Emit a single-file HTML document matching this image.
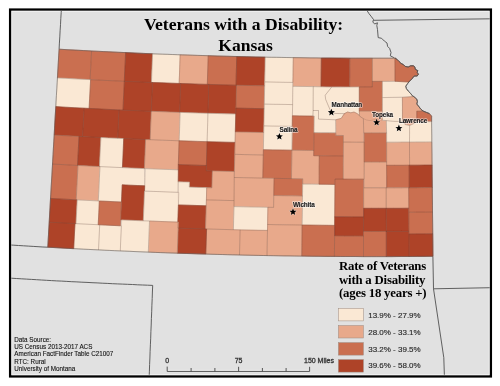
<!DOCTYPE html>
<html><head><meta charset="utf-8"><style>
html,body{margin:0;padding:0;background:#fff;}
svg{display:block;will-change:transform;}
.t{font-family:"Liberation Serif",serif;font-weight:bold;fill:#000;}
.s{font-family:"Liberation Sans",sans-serif;}
</style></head><body>
<svg width="500" height="386" viewBox="0 0 500 386">
<defs><clipPath id="cp"><rect x="11.3" y="10.55" width="478.4" height="364.3"/></clipPath></defs>
<rect x="10.15" y="9.6" width="480.7" height="366.8" fill="#e1e1e1" stroke="#000" stroke-width="2.4"/>
<rect x="11.75" y="11.2" width="477.5" height="363.6" fill="none" stroke="#fff" stroke-opacity="0.7" stroke-width="0.9"/>
<g fill="none" stroke="#505050" stroke-width="0.9" stroke-linejoin="round" clip-path="url(#cp)">
<path d="M59.1,49.2 L59.4,43.1 L59.8,36.9 L60.1,30.8 L60.5,24.7 L60.8,18.6 L61.2,12.4 L61.5,6.3"/>
<path d="M47.8,247.2 L42.9,247.0 L38.0,246.7 L33.2,246.4 L28.3,246.1 L23.5,245.8 L18.6,245.5 L13.8,245.2 L8.9,244.9"/>
<path d="M-14.0,276.5 L-9.0,276.9 L-3.9,277.2 L1.1,277.5 L6.2,277.8 L11.2,278.2 L16.3,278.5 L21.3,278.8 L26.4,279.1 L31.4,279.4 L36.5,279.7 L41.5,280.0 L46.6,280.3 L51.6,280.6 L56.7,280.9 L61.7,281.1 L66.8,281.4 L71.8,281.7 L76.9,281.9 L81.9,282.2 L87.0,282.4 L92.0,282.7 L97.1,282.9 L102.2,283.2 L107.2,283.4 L112.3,283.7 L117.3,283.9 L122.4,284.1 L127.4,284.3 L132.5,284.5 L137.5,284.8 L142.6,285.0 L147.6,285.2 L152.7,285.4 L152.4,292.0 L152.2,298.6 L151.9,305.2 L151.7,311.8 L151.4,318.4 L151.2,325.0 L150.9,331.6 L150.7,338.2 L150.4,344.8 L150.1,351.4 L149.9,358.0 L149.6,364.6 L149.4,371.2 L149.1,377.9 L148.9,384.5"/>
<path d="M432.9,256.4 L433.5,288.8 L491,287.7"/>
<path d="M433.5,288.8 L443.8,357.7 L444.4,376"/>
<path d="M373.5,20.3 L491,18.8"/>
<path d="M366.1,9 L368.8,13.4 L371.5,16.8 L373.5,19.5 L372.8,22.2 L374.8,23.9 L377.5,22.8 L376.8,25.5 L377.5,29.6 L378.2,37.6 L381.6,38.3 L384.3,41 L387,43 L387.6,46.4 L389.6,48.4 L391,52.5 L390.3,55.8 L394.4,57.9"/>
</g>
<g stroke-width="0.5" stroke-linejoin="round">
<polygon fill="#ca6f50" stroke="#ca6f50" points="59.1,49.2 67.2,49.7 75.3,50.1 83.4,50.5 91.6,51.0 91.1,60.5 90.6,70.1 90.1,79.6 81.9,79.2 73.8,78.8 65.6,78.3 57.4,77.9 58.0,68.3 58.5,58.8"/>
<polygon fill="#ca6f50" stroke="#ca6f50" points="91.6,51.0 100.1,51.4 108.6,51.8 117.1,52.2 125.6,52.6 125.2,62.2 124.7,71.7 124.3,81.3 115.7,80.9 107.2,80.5 98.6,80.1 90.1,79.6 90.6,70.1 91.1,60.5"/>
<polygon fill="#ae4328" stroke="#ae4328" points="125.6,52.6 134.6,53.0 143.6,53.4 152.6,53.8 152.2,63.3 151.8,72.9 151.5,82.4 142.4,82.1 133.3,81.7 124.3,81.3 124.7,71.7 125.2,62.2"/>
<polygon fill="#fae8d4" stroke="#fae8d4" points="152.6,53.8 161.8,54.1 171.0,54.5 180.1,54.8 179.8,64.4 179.5,73.9 179.1,83.5 169.9,83.1 160.7,82.8 151.5,82.4 151.8,72.9 152.2,63.3"/>
<polygon fill="#e8a98b" stroke="#e8a98b" points="180.1,54.8 189.5,55.1 198.8,55.4 208.2,55.7 207.9,65.3 207.6,74.8 207.3,84.4 197.9,84.1 188.5,83.8 179.1,83.5 179.5,73.9 179.8,64.4"/>
<polygon fill="#ca6f50" stroke="#ca6f50" points="208.2,55.7 217.7,56.0 227.2,56.3 236.7,56.5 236.5,66.1 236.2,75.6 236.0,85.2 226.4,84.9 216.9,84.7 207.3,84.4 207.6,74.8 207.9,65.3"/>
<polygon fill="#ae4328" stroke="#ae4328" points="236.7,56.5 246.2,56.7 255.7,56.9 265.2,57.1 265.0,66.7 264.8,76.3 264.7,85.8 255.1,85.6 245.5,85.4 236.0,85.2 236.2,75.6 236.5,66.1"/>
<polygon fill="#fae8d4" stroke="#fae8d4" points="265.2,57.1 274.6,57.3 283.9,57.5 293.3,57.6 293.1,70.0 292.9,82.4 283.5,82.3 274.1,82.1 264.7,81.9 265.0,69.5"/>
<polygon fill="#e8a98b" stroke="#e8a98b" points="293.3,57.6 302.6,57.8 312.0,57.9 321.3,58.0 321.2,67.5 321.1,77.1 321.0,86.7 311.6,86.6 302.2,86.4 292.8,86.3 293.0,76.8 293.1,67.2"/>
<polygon fill="#ae4328" stroke="#ae4328" points="321.3,58.0 330.8,58.0 340.3,58.1 349.9,58.2 349.8,67.7 349.8,77.3 349.7,86.9 340.2,86.8 330.6,86.7 321.0,86.7 321.1,77.1 321.2,67.5"/>
<polygon fill="#ca6f50" stroke="#ca6f50" points="349.9,58.2 357.4,58.2 364.9,58.2 372.4,58.2 372.4,67.8 372.4,77.4 372.4,86.9 364.8,86.9 357.3,86.9 349.7,86.9 349.8,77.3 349.8,67.7"/>
<polygon fill="#e8a98b" stroke="#e8a98b" points="372.4,58.2 379.9,58.2 387.4,58.2 394.9,58.2 395.0,69.8 395.0,81.3 387.5,81.4 379.9,81.4 372.4,81.4 372.4,69.8"/>
<polygon fill="#fae8d4" stroke="#fae8d4" points="57.4,77.9 65.7,78.3 74.0,78.8 82.3,79.2 90.6,79.7 90.1,89.2 89.6,98.8 89.1,108.4 80.8,108.0 72.5,107.6 64.1,107.1 55.8,106.6 56.3,97.0 56.9,87.5"/>
<polygon fill="#ca6f50" stroke="#ca6f50" points="90.6,79.7 99.0,80.1 107.4,80.5 115.9,80.9 124.3,81.3 123.9,90.9 123.4,100.5 123.0,110.1 114.5,109.7 106.1,109.3 97.6,108.9 89.1,108.4 89.6,98.8 90.1,89.2"/>
<polygon fill="#ae4328" stroke="#ae4328" points="124.3,81.3 133.7,81.7 143.1,82.1 152.5,82.5 152.1,92.1 151.7,101.7 151.3,111.3 141.9,110.9 132.4,110.5 123.0,110.1 123.4,100.5 123.9,90.9"/>
<polygon fill="#ae4328" stroke="#ae4328" points="152.5,82.5 161.8,82.8 171.2,83.2 180.6,83.5 180.3,93.1 180.0,102.7 179.6,112.3 170.2,112.0 160.7,111.6 151.3,111.3 151.7,101.7 152.1,92.1"/>
<polygon fill="#ae4328" stroke="#ae4328" points="180.6,83.5 190.0,83.8 199.4,84.2 208.8,84.4 208.5,94.0 208.2,103.6 207.9,113.3 198.5,113.0 189.1,112.7 179.6,112.3 180.0,102.7 180.3,93.1"/>
<polygon fill="#ae4328" stroke="#ae4328" points="208.8,84.4 218.0,84.7 227.3,85.0 236.5,85.2 236.2,94.8 236.0,104.4 235.8,114.0 226.5,113.8 217.2,113.5 207.9,113.3 208.2,103.6 208.5,94.0"/>
<polygon fill="#ca6f50" stroke="#ca6f50" points="236.5,85.2 245.9,85.4 255.3,85.6 264.7,85.8 264.4,97.3 264.2,108.7 254.8,108.5 245.3,108.3 235.9,108.1 236.2,96.6"/>
<polygon fill="#fae8d4" stroke="#fae8d4" points="264.7,81.9 274.1,82.1 283.5,82.3 292.9,82.4 292.7,93.5 292.6,104.6 283.1,104.4 273.7,104.3 264.3,104.1 264.5,93.0"/>
<polygon fill="#fae8d4" stroke="#fae8d4" points="292.8,86.3 299.7,86.4 306.6,86.5 313.5,86.6 313.4,96.4 313.3,106.2 313.2,116.1 306.2,116.0 299.3,115.9 292.4,115.8 292.6,106.0 292.7,96.1"/>
<polygon fill="#ae4328" stroke="#ae4328" points="55.8,106.6 65.2,107.2 74.6,107.7 84.1,108.2 83.6,117.6 83.1,127.1 82.6,136.6 73.1,136.1 63.6,135.6 54.2,135.0 54.7,125.6 55.2,116.1"/>
<polygon fill="#ae4328" stroke="#ae4328" points="84.1,108.2 92.8,108.6 101.5,109.1 110.2,109.5 119.0,109.9 118.5,119.4 118.1,128.8 117.7,138.3 108.9,137.9 100.1,137.5 91.4,137.0 82.6,136.6 83.1,127.1 83.6,117.6"/>
<polygon fill="#ae4328" stroke="#ae4328" points="119.0,109.9 127.0,110.3 135.1,110.6 143.2,110.9 151.3,111.3 150.9,120.7 150.5,130.2 150.2,139.7 142.0,139.4 133.9,139.0 125.8,138.7 117.7,138.3 118.1,128.8 118.5,119.4"/>
<polygon fill="#e8a98b" stroke="#e8a98b" points="151.3,111.3 160.9,111.7 170.5,112.0 180.1,112.4 179.8,121.8 179.5,131.3 179.1,140.8 169.5,140.4 159.8,140.1 150.2,139.7 150.5,130.2 150.9,120.7"/>
<polygon fill="#fae8d4" stroke="#fae8d4" points="180.1,112.4 189.4,112.7 198.7,113.0 207.9,113.3 207.7,122.7 207.4,132.2 207.1,141.7 197.8,141.4 188.5,141.1 179.1,140.8 179.5,131.3 179.8,121.8"/>
<polygon fill="#fae8d4" stroke="#fae8d4" points="207.9,113.3 217.2,113.5 226.5,113.8 235.8,114.0 235.5,123.5 235.3,133.0 235.1,142.4 225.7,142.2 216.4,141.9 207.1,141.7 207.4,132.2 207.7,122.7"/>
<polygon fill="#ae4328" stroke="#ae4328" points="235.9,108.1 245.3,108.3 254.8,108.5 264.2,108.7 264.0,120.6 263.7,132.5 254.3,132.3 244.8,132.1 235.3,131.9 235.6,120.0"/>
<polygon fill="#fae8d4" stroke="#fae8d4" points="264.3,104.1 273.7,104.3 283.1,104.4 292.6,104.6 292.4,115.5 292.3,126.4 282.8,126.2 273.3,126.1 263.9,125.9 264.1,115.0"/>
<polygon fill="#ca6f50" stroke="#ca6f50" points="292.4,115.8 299.7,115.9 306.9,116.0 314.2,116.1 314.0,127.5 313.9,139.0 313.8,150.5 306.5,150.4 299.2,150.3 291.9,150.2 292.1,138.7 292.2,127.3"/>
<polygon fill="#ca6f50" stroke="#ca6f50" points="54.2,135.0 62.5,135.5 70.8,135.9 79.0,136.4 78.5,146.1 78.0,155.8 77.5,165.4 69.2,165.0 60.8,164.5 52.5,164.1 53.1,154.4 53.6,144.7"/>
<polygon fill="#ae4328" stroke="#ae4328" points="79.0,136.4 86.3,136.8 93.6,137.1 100.9,137.5 100.4,147.2 99.9,156.9 99.5,166.6 92.2,166.2 84.8,165.8 77.5,165.4 78.0,155.8 78.5,146.1"/>
<polygon fill="#fae8d4" stroke="#fae8d4" points="100.9,137.5 108.5,137.9 116.1,138.2 123.7,138.6 123.3,148.3 122.9,157.9 122.4,167.6 114.8,167.3 107.1,166.9 99.5,166.6 99.9,156.9 100.4,147.2"/>
<polygon fill="#ae4328" stroke="#ae4328" points="123.7,138.6 131.0,138.9 138.3,139.2 145.6,139.5 145.2,149.2 144.8,158.9 144.4,168.6 137.1,168.3 129.8,168.0 122.4,167.6 122.9,157.9 123.3,148.3"/>
<polygon fill="#e8a98b" stroke="#e8a98b" points="145.6,139.5 154.0,139.8 162.4,140.2 170.7,140.5 179.1,140.8 178.8,150.5 178.5,160.2 178.1,169.8 169.7,169.5 161.3,169.2 152.8,168.9 144.4,168.6 144.8,158.9 145.2,149.2"/>
<polygon fill="#ca6f50" stroke="#ca6f50" points="179.1,140.8 188.5,141.1 197.8,141.4 207.1,141.7 206.7,153.6 206.4,165.5 197.0,165.2 187.7,164.9 178.3,164.6 178.7,152.7"/>
<polygon fill="#ae4328" stroke="#ae4328" points="207.1,141.7 216.4,141.9 225.7,142.2 235.1,142.4 234.8,152.1 234.6,161.8 234.3,171.5 225.0,171.3 215.6,171.0 206.2,170.8 206.5,161.1 206.8,151.4"/>
<polygon fill="#e8a98b" stroke="#e8a98b" points="235.3,131.9 244.8,132.1 254.3,132.3 263.7,132.5 263.5,143.7 263.3,155.0 253.8,154.8 244.3,154.6 234.8,154.3 235.0,143.1"/>
<polygon fill="#fae8d4" stroke="#fae8d4" points="263.9,125.9 273.3,126.1 282.8,126.2 292.3,126.4 292.1,138.3 291.9,150.2 282.4,150.0 272.9,149.9 263.4,149.7 263.6,137.8"/>
<polygon fill="#e8a98b" stroke="#e8a98b" points="234.8,154.3 244.3,154.6 253.8,154.8 263.3,155.0 263.1,166.5 262.8,178.1 253.3,177.9 243.7,177.7 234.2,177.5 234.5,165.9"/>
<polygon fill="#ca6f50" stroke="#ca6f50" points="263.4,149.7 272.9,149.9 282.4,150.0 291.9,150.2 291.8,159.7 291.6,169.1 291.5,178.6 281.9,178.5 272.4,178.3 262.8,178.1 263.0,168.6 263.2,159.2"/>
<polygon fill="#ca6f50" stroke="#ca6f50" points="52.5,164.1 61.0,164.5 69.5,165.0 78.0,165.5 77.4,176.9 76.8,188.4 76.2,199.8 67.7,199.3 59.1,198.9 50.5,198.4 51.2,187.0 51.9,175.5"/>
<polygon fill="#e8a98b" stroke="#e8a98b" points="78.0,165.5 85.3,165.8 92.7,166.2 100.0,166.6 99.4,178.0 98.9,189.5 98.3,200.9 90.9,200.6 83.6,200.2 76.2,199.8 76.8,188.4 77.4,176.9"/>
<polygon fill="#fae8d4" stroke="#fae8d4" points="100.0,166.6 108.9,167.0 117.7,167.4 126.6,167.8 135.5,168.2 144.4,168.6 144.6,177.2 144.7,185.8 137.2,185.5 129.7,185.2 122.2,184.8 121.8,193.4 121.4,202.0 113.7,201.6 106.0,201.3 98.3,200.9 98.9,189.5 99.4,178.0"/>
<polygon fill="#fae8d4" stroke="#fae8d4" points="145.4,168.6 153.7,168.9 162.0,169.3 170.3,169.6 178.6,169.9 178.2,181.1 177.9,192.3 169.5,192.0 161.2,191.7 152.9,191.4 144.5,191.1 145.0,179.8"/>
<polygon fill="#ae4328" stroke="#ae4328" points="178.3,164.6 187.7,164.9 197.0,165.2 206.4,165.5 206.2,170.8 212.4,170.9 212.1,179.4 211.9,187.8 204.4,187.6 196.8,187.3 189.3,187.1 189.5,182.1 183.9,181.9 178.2,181.8 178.3,173.2"/>
<polygon fill="#fae8d4" stroke="#fae8d4" points="178.2,181.8 183.9,181.9 189.5,182.1 189.3,187.1 198.0,187.4 206.7,187.6 206.5,196.7 206.2,205.8 197.0,205.5 187.7,205.2 178.4,204.9 178.3,193.3"/>
<polygon fill="#e8a98b" stroke="#e8a98b" points="212.4,170.9 219.7,171.1 227.0,171.3 234.3,171.5 234.3,181.2 234.2,190.9 234.1,200.6 224.9,200.4 215.6,200.1 206.4,199.9 206.7,187.6 211.9,187.8 212.1,179.4"/>
<polygon fill="#ae4328" stroke="#ae4328" points="122.2,184.8 129.7,185.2 137.2,185.5 144.7,185.8 144.3,197.5 143.8,209.1 143.3,220.8 135.7,220.5 128.2,220.2 120.6,219.8 121.2,208.2 121.7,196.5"/>
<polygon fill="#fae8d4" stroke="#fae8d4" points="144.5,191.1 153.1,191.4 161.7,191.7 170.3,192.1 178.9,192.4 178.5,202.3 178.2,212.2 177.9,222.1 169.2,221.8 160.6,221.5 151.9,221.1 143.3,220.8 143.7,210.9 144.1,201.0"/>
<polygon fill="#ae4328" stroke="#ae4328" points="178.4,204.9 187.7,205.2 197.0,205.5 206.2,205.8 205.9,217.4 205.5,228.9 196.2,228.7 186.9,228.4 177.6,228.0 178.0,216.5"/>
<polygon fill="#e8a98b" stroke="#e8a98b" points="206.4,199.9 215.6,200.1 224.9,200.4 234.1,200.6 233.9,210.3 233.6,220.0 233.4,229.7 224.1,229.5 214.8,229.2 205.5,228.9 205.8,219.2 206.1,209.6"/>
<polygon fill="#e8a98b" stroke="#e8a98b" points="234.2,177.5 244.2,177.7 254.1,177.9 264.1,178.1 274.1,178.3 273.9,188.0 273.7,197.7 273.6,207.4 263.7,207.2 253.8,207.0 243.9,206.8 234.0,206.6 234.0,196.9 234.1,187.2"/>
<polygon fill="#fae8d4" stroke="#fae8d4" points="234.0,206.6 242.5,206.8 250.9,207.0 259.4,207.1 267.9,207.3 267.7,218.9 267.5,230.4 259.0,230.3 250.4,230.1 241.9,229.9 233.4,229.7 233.7,218.1"/>
<polygon fill="#ca6f50" stroke="#ca6f50" points="274.1,178.3 283.6,178.5 293.2,178.6 302.7,178.8 302.6,187.4 302.5,196.0 292.9,195.8 283.4,195.7 273.8,195.5 273.9,186.9"/>
<polygon fill="#e8a98b" stroke="#e8a98b" points="273.8,195.5 283.4,195.7 292.9,195.8 302.5,196.0 302.4,205.6 302.3,215.3 302.1,225.0 293.5,224.9 284.9,224.8 276.2,224.7 267.6,224.5 267.7,215.9 267.9,207.3 273.6,207.4"/>
<polygon fill="#e8a98b" stroke="#e8a98b" points="291.9,150.2 299.2,150.3 306.5,150.4 313.8,150.5 313.7,155.7 319.3,155.8 319.2,165.3 319.2,174.8 319.1,184.2 310.9,184.1 302.7,184.1 302.7,178.8 297.1,178.7 291.5,178.6 291.6,169.1 291.8,159.7"/>
<polygon fill="#fae8d4" stroke="#fae8d4" points="302.7,184.1 310.7,184.1 318.8,184.2 326.9,184.3 334.9,184.4 334.9,194.6 334.8,204.9 334.7,215.1 334.6,225.4 326.5,225.3 318.4,225.2 310.3,225.1 302.1,225.0 302.3,214.8 302.4,204.5 302.5,194.3"/>
<polygon fill="#e8a98b" stroke="#e8a98b" points="267.6,224.5 276.2,224.7 284.9,224.8 293.5,224.9 302.1,225.0 302.0,235.4 301.9,245.8 301.8,256.1 293.1,256.0 284.4,255.9 275.7,255.7 267.0,255.6 267.2,245.2 267.4,234.9"/>
<polygon fill="#ca6f50" stroke="#ca6f50" points="302.1,225.0 310.3,225.1 318.4,225.2 326.5,225.3 334.6,225.4 334.6,235.7 334.5,246.1 334.4,256.4 326.3,256.4 318.1,256.3 309.9,256.2 301.8,256.1 301.9,245.8 302.0,235.4"/>
<polygon fill="#e8a98b" stroke="#e8a98b" points="240.1,229.9 249.2,230.1 258.4,230.3 267.5,230.4 267.2,243.0 267.0,255.6 257.8,255.4 248.7,255.2 239.5,255.0 239.8,242.4"/>
<polygon fill="#e8a98b" stroke="#e8a98b" points="206.6,229.0 214.9,229.2 223.3,229.4 231.7,229.7 240.1,229.9 239.8,242.4 239.5,255.0 231.1,254.8 222.7,254.6 214.2,254.3 205.8,254.1 206.2,241.5"/>
<polygon fill="#ae4328" stroke="#ae4328" points="178.2,228.1 187.6,228.4 197.1,228.7 206.6,229.0 206.2,241.5 205.8,254.1 196.3,253.8 186.8,253.5 177.3,253.2 177.7,240.6"/>
<polygon fill="#e8a98b" stroke="#e8a98b" points="149.5,221.0 159.1,221.4 168.7,221.8 178.4,222.1 178.0,232.5 177.7,242.8 177.3,253.2 167.6,252.8 157.9,252.5 148.3,252.1 148.7,241.7 149.1,231.4"/>
<polygon fill="#fae8d4" stroke="#fae8d4" points="121.7,219.9 130.9,220.3 140.2,220.7 149.5,221.0 149.1,231.4 148.7,241.7 148.3,252.1 138.9,251.7 129.6,251.3 120.3,250.9 120.7,240.6 121.2,230.2"/>
<polygon fill="#fae8d4" stroke="#fae8d4" points="99.7,224.8 107.0,225.2 114.2,225.5 121.4,225.8 120.8,238.4 120.3,250.9 113.0,250.6 105.8,250.3 98.5,249.9 99.1,237.4"/>
<polygon fill="#fae8d4" stroke="#fae8d4" points="75.0,223.6 83.2,224.0 91.5,224.4 99.7,224.8 99.1,237.4 98.5,249.9 90.2,249.5 81.9,249.1 73.7,248.7 74.3,236.1"/>
<polygon fill="#ae4328" stroke="#ae4328" points="49.2,222.2 57.8,222.6 66.4,223.1 75.0,223.6 74.3,236.1 73.7,248.7 65.0,248.2 56.4,247.7 47.8,247.2 48.5,234.7"/>
<polygon fill="#ae4328" stroke="#ae4328" points="50.5,198.4 59.4,198.9 68.3,199.4 77.2,199.9 76.6,211.7 76.0,223.6 67.1,223.2 58.1,222.7 49.2,222.2 49.9,210.3"/>
<polygon fill="#fae8d4" stroke="#fae8d4" points="77.2,199.9 84.6,200.2 92.0,200.6 99.3,201.0 98.8,212.9 98.2,224.7 90.8,224.4 83.4,224.0 76.0,223.6 76.6,211.7"/>
<polygon fill="#ca6f50" stroke="#ca6f50" points="99.3,201.0 106.7,201.3 114.1,201.7 121.4,202.0 120.9,213.9 120.4,225.8 113.0,225.4 105.6,225.1 98.2,224.7 98.8,212.9"/>
<polygon fill="#ca6f50" stroke="#ca6f50" points="319.3,155.8 327.3,155.9 335.3,155.9 343.3,156.0 343.2,167.6 343.2,179.1 335.0,179.1 334.9,184.4 327.0,184.3 319.1,184.2 319.2,174.8 319.2,165.3"/>
<polygon fill="#ca6f50" stroke="#ca6f50" points="314.0,132.6 321.3,132.7 328.5,132.7 335.8,132.8 335.8,135.4 343.4,135.5 343.4,145.7 343.3,156.0 333.4,155.9 323.6,155.8 313.7,155.7 313.9,144.2"/>
<polygon fill="#e8a98b" stroke="#e8a98b" points="343.4,142.1 350.3,142.1 357.3,142.2 364.2,142.2 364.2,154.5 364.2,166.9 364.1,179.2 357.2,179.2 350.2,179.2 343.2,179.1 343.2,166.8 343.3,154.4"/>
<polygon fill="#ca6f50" stroke="#ca6f50" points="335.0,179.1 344.5,179.1 354.1,179.2 363.6,179.2 363.6,191.8 363.6,204.3 363.6,216.9 353.9,216.9 344.3,216.8 334.7,216.8 334.8,204.2 334.9,191.6"/>
<polygon fill="#ae4328" stroke="#ae4328" points="334.7,216.8 344.3,216.8 353.9,216.9 363.6,216.9 363.5,226.5 363.5,236.1 353.9,236.0 344.2,236.0 334.6,235.9 334.6,226.4"/>
<polygon fill="#ca6f50" stroke="#ca6f50" points="334.6,235.9 344.2,236.0 353.9,236.0 363.5,236.1 363.5,246.3 363.5,256.6 353.8,256.5 344.1,256.5 334.4,256.4 334.5,246.2"/>
<polygon fill="#ca6f50" stroke="#ca6f50" points="364.2,132.9 371.7,132.9 379.1,132.9 386.6,132.9 386.6,142.6 386.6,152.3 386.6,162.0 379.1,162.0 371.7,162.0 364.2,162.0 364.2,152.3 364.2,142.6"/>
<polygon fill="#e8a98b" stroke="#e8a98b" points="364.2,162.0 371.7,162.0 379.1,162.0 386.6,162.0 386.7,174.9 386.7,187.8 379.2,187.8 371.6,187.8 364.1,187.8 364.2,174.9"/>
<polygon fill="#e8a98b" stroke="#e8a98b" points="363.6,187.8 371.1,187.8 378.6,187.8 386.2,187.8 386.2,198.1 386.2,208.3 378.7,208.3 371.1,208.3 363.6,208.3 363.6,198.1"/>
<polygon fill="#ae4328" stroke="#ae4328" points="363.6,208.3 371.1,208.3 378.7,208.3 386.2,208.3 386.2,219.9 386.3,231.4 378.7,231.5 371.1,231.5 363.5,231.4 363.6,219.9"/>
<polygon fill="#ca6f50" stroke="#ca6f50" points="363.5,231.4 371.1,231.5 378.7,231.5 386.3,231.4 386.3,244.0 386.3,256.6 378.7,256.6 371.1,256.6 363.5,256.6 363.5,244.0"/>
<polygon fill="#e8a98b" stroke="#e8a98b" points="386.6,142.2 394.2,142.2 401.8,142.1 409.5,142.1 409.5,153.7 409.6,165.2 401.9,165.3 394.3,165.3 386.6,165.3 386.6,153.8"/>
<polygon fill="#ca6f50" stroke="#ca6f50" points="386.6,165.3 394.1,165.3 401.6,165.3 409.1,165.2 409.2,176.5 409.2,187.7 401.7,187.8 394.2,187.8 386.7,187.8 386.7,176.6"/>
<polygon fill="#e8a98b" stroke="#e8a98b" points="386.2,187.8 393.7,187.8 401.2,187.8 408.7,187.7 408.8,198.0 408.8,208.2 401.3,208.3 393.7,208.3 386.2,208.3 386.2,198.1"/>
<polygon fill="#ae4328" stroke="#ae4328" points="386.2,208.3 393.7,208.3 401.3,208.3 408.8,208.2 408.9,219.8 409.0,231.4 401.4,231.4 393.8,231.4 386.3,231.4 386.2,219.9"/>
<polygon fill="#ae4328" stroke="#ae4328" points="386.3,231.4 393.8,231.4 401.4,231.4 409.0,231.4 409.0,243.9 409.1,256.5 401.5,256.5 393.9,256.6 386.3,256.6 386.3,244.0"/>
<polygon fill="#e8a98b" stroke="#e8a98b" points="409.5,142.1 416.9,142.0 424.4,142.0 431.8,141.9 431.9,153.5 432.1,165.1 424.6,165.1 417.1,165.2 409.6,165.2 409.5,153.7"/>
<polygon fill="#ae4328" stroke="#ae4328" points="409.1,165.2 416.7,165.2 424.4,165.1 432.1,165.1 432.2,176.3 432.3,187.5 424.6,187.6 416.9,187.7 409.2,187.7 409.2,176.5"/>
<polygon fill="#ca6f50" stroke="#ca6f50" points="408.7,187.7 416.6,187.7 424.4,187.6 432.3,187.5 432.4,199.8 432.5,212.0 424.6,212.1 416.8,212.1 408.9,212.2 408.8,200.0"/>
<polygon fill="#ca6f50" stroke="#ca6f50" points="408.9,212.2 416.8,212.1 424.6,212.1 432.5,212.0 432.6,222.9 432.8,233.8 424.8,233.9 416.9,233.9 409.0,234.0 408.9,223.1"/>
<polygon fill="#ae4328" stroke="#ae4328" points="409.0,234.0 416.9,233.9 424.8,233.9 432.8,233.8 432.9,245.1 433.0,256.3 425.0,256.4 417.1,256.4 409.1,256.5 409.1,245.2"/>
<polygon fill="#fae8d4" stroke="#fae8d4" points="313.0,86.6 331.6,87.2 325.2,95.2 325.6,99.2 327.6,104.0 330.0,109.6 331.4,112.3 335.7,113.5 344.4,113.6 341.2,118.4 335.7,119.8 318.5,119.1 318.5,110.5 313.0,110.5"/>
<polygon fill="#fae8d4" stroke="#fae8d4" points="359.3,86.9 359.3,99.0 359.3,111.1 359.4,115.5 357.2,113.6 354.0,112.0 350.8,112.8 347.6,112.0 344.4,113.6 335.7,113.5 331.4,112.3 330.0,109.6 327.6,104.0 325.6,99.2 325.2,95.2 331.6,87.2"/>
<polygon fill="#e8a98b" stroke="#e8a98b" points="335.7,119.8 341.2,118.4 344.4,113.6 347.6,112.0 350.8,112.8 354.0,112.0 357.2,113.6 359.4,115.5 360.4,116.8 363.4,118.6 363.8,142.2 357.0,142.2 350.2,142.1 343.4,142.1 343.4,135.5 335.8,135.4 335.8,132.8"/>
<polygon fill="#fae8d4" stroke="#fae8d4" points="313.0,110.5 318.5,110.5 318.5,119.1 335.7,119.8 335.8,132.8 328.5,132.7 321.3,132.7 314.0,132.6 314.1,124.3 314.2,116.1 312.6,116.1"/>
<polygon fill="#ca6f50" stroke="#ca6f50" points="359.3,86.9 365.9,86.9 372.4,86.9 372.4,81.4 382.4,81.4 382.4,91.3 382.4,101.2 382.4,111.1 374.7,111.1 367.0,111.1 359.3,111.1 359.3,99.0"/>
<polygon fill="#e8a98b" stroke="#e8a98b" points="359.3,111.1 367.0,111.1 374.7,111.1 382.4,111.1 382.5,120.2 386.3,120.6 386.6,132.9 379.0,132.9 371.4,132.9 363.8,132.9 363.4,118.6 360.4,116.8 359.4,115.5"/>
<polygon fill="#fae8d4" stroke="#fae8d4" points="382.4,81.4 388.7,81.4 395.0,81.3 408.8,82.0 407.6,83.6 405.8,86.2 406.4,88.6 408.2,91.0 410.6,93.4 412.4,95.8 413.8,96.6 382.4,97.6 382.4,89.5"/>
<polygon fill="#ca6f50" stroke="#ca6f50" points="394.9,58.2 395.0,58.0 396.8,59.2 399.2,61.6 401.0,63.4 403.4,64.6 405.2,66.4 408.2,67.0 410.6,65.8 413.6,65.8 414.8,67.0 415.4,69.4 417.8,70.6 417.2,72.4 418.4,74.2 417.2,76.0 414.8,76.0 413.6,76.6 412.4,78.4 410.6,80.2 408.8,82.0 395.0,81.3 395.0,69.8"/>
<polygon fill="#fae8d4" stroke="#fae8d4" points="382.4,97.6 392.4,97.5 402.4,97.5 402.5,121.4 395.0,121.4 390.0,121.0 386.3,120.6 382.5,120.2 382.4,111.1 382.4,104.3"/>
<polygon fill="#e8a98b" stroke="#e8a98b" points="402.4,97.5 413.8,96.6 416.8,99.2 417.4,101.6 416.8,104.0 419.2,107.0 421.0,109.4 423.4,111.2 416.8,111.2 416.8,121.6 413.0,124.0 409.6,125.5 405.0,124.5 402.5,121.4"/>
<polygon fill="#ca6f50" stroke="#ca6f50" points="416.8,111.2 423.4,111.2 426.4,112.4 429.4,113.6 431.6,116.1 431.6,121.7 416.8,121.6"/>
<polygon fill="#fae8d4" stroke="#fae8d4" points="386.3,120.6 390.0,121.0 395.0,121.4 402.5,121.4 405.0,124.5 409.6,125.5 409.5,142.1 401.8,142.1 394.2,142.2 386.6,142.2 386.6,132.9"/>
<polygon fill="#fae8d4" stroke="#fae8d4" points="409.6,125.5 413.0,124.0 416.8,121.6 431.6,121.7 431.7,131.8 431.8,141.9 424.4,142.0 416.9,142.0 409.5,142.1"/>
</g>
<g fill="none" stroke="#6a4a3a" stroke-opacity="0.3" stroke-width="0.55" stroke-linejoin="round">
<polygon points="59.1,49.2 67.2,49.7 75.3,50.1 83.4,50.5 91.6,51.0 91.1,60.5 90.6,70.1 90.1,79.6 81.9,79.2 73.8,78.8 65.6,78.3 57.4,77.9 58.0,68.3 58.5,58.8"/>
<polygon points="91.6,51.0 100.1,51.4 108.6,51.8 117.1,52.2 125.6,52.6 125.2,62.2 124.7,71.7 124.3,81.3 115.7,80.9 107.2,80.5 98.6,80.1 90.1,79.6 90.6,70.1 91.1,60.5"/>
<polygon points="125.6,52.6 134.6,53.0 143.6,53.4 152.6,53.8 152.2,63.3 151.8,72.9 151.5,82.4 142.4,82.1 133.3,81.7 124.3,81.3 124.7,71.7 125.2,62.2"/>
<polygon points="152.6,53.8 161.8,54.1 171.0,54.5 180.1,54.8 179.8,64.4 179.5,73.9 179.1,83.5 169.9,83.1 160.7,82.8 151.5,82.4 151.8,72.9 152.2,63.3"/>
<polygon points="180.1,54.8 189.5,55.1 198.8,55.4 208.2,55.7 207.9,65.3 207.6,74.8 207.3,84.4 197.9,84.1 188.5,83.8 179.1,83.5 179.5,73.9 179.8,64.4"/>
<polygon points="208.2,55.7 217.7,56.0 227.2,56.3 236.7,56.5 236.5,66.1 236.2,75.6 236.0,85.2 226.4,84.9 216.9,84.7 207.3,84.4 207.6,74.8 207.9,65.3"/>
<polygon points="236.7,56.5 246.2,56.7 255.7,56.9 265.2,57.1 265.0,66.7 264.8,76.3 264.7,85.8 255.1,85.6 245.5,85.4 236.0,85.2 236.2,75.6 236.5,66.1"/>
<polygon points="265.2,57.1 274.6,57.3 283.9,57.5 293.3,57.6 293.1,70.0 292.9,82.4 283.5,82.3 274.1,82.1 264.7,81.9 265.0,69.5"/>
<polygon points="293.3,57.6 302.6,57.8 312.0,57.9 321.3,58.0 321.2,67.5 321.1,77.1 321.0,86.7 311.6,86.6 302.2,86.4 292.8,86.3 293.0,76.8 293.1,67.2"/>
<polygon points="321.3,58.0 330.8,58.0 340.3,58.1 349.9,58.2 349.8,67.7 349.8,77.3 349.7,86.9 340.2,86.8 330.6,86.7 321.0,86.7 321.1,77.1 321.2,67.5"/>
<polygon points="349.9,58.2 357.4,58.2 364.9,58.2 372.4,58.2 372.4,67.8 372.4,77.4 372.4,86.9 364.8,86.9 357.3,86.9 349.7,86.9 349.8,77.3 349.8,67.7"/>
<polygon points="372.4,58.2 379.9,58.2 387.4,58.2 394.9,58.2 395.0,69.8 395.0,81.3 387.5,81.4 379.9,81.4 372.4,81.4 372.4,69.8"/>
<polygon points="57.4,77.9 65.7,78.3 74.0,78.8 82.3,79.2 90.6,79.7 90.1,89.2 89.6,98.8 89.1,108.4 80.8,108.0 72.5,107.6 64.1,107.1 55.8,106.6 56.3,97.0 56.9,87.5"/>
<polygon points="90.6,79.7 99.0,80.1 107.4,80.5 115.9,80.9 124.3,81.3 123.9,90.9 123.4,100.5 123.0,110.1 114.5,109.7 106.1,109.3 97.6,108.9 89.1,108.4 89.6,98.8 90.1,89.2"/>
<polygon points="124.3,81.3 133.7,81.7 143.1,82.1 152.5,82.5 152.1,92.1 151.7,101.7 151.3,111.3 141.9,110.9 132.4,110.5 123.0,110.1 123.4,100.5 123.9,90.9"/>
<polygon points="152.5,82.5 161.8,82.8 171.2,83.2 180.6,83.5 180.3,93.1 180.0,102.7 179.6,112.3 170.2,112.0 160.7,111.6 151.3,111.3 151.7,101.7 152.1,92.1"/>
<polygon points="180.6,83.5 190.0,83.8 199.4,84.2 208.8,84.4 208.5,94.0 208.2,103.6 207.9,113.3 198.5,113.0 189.1,112.7 179.6,112.3 180.0,102.7 180.3,93.1"/>
<polygon points="208.8,84.4 218.0,84.7 227.3,85.0 236.5,85.2 236.2,94.8 236.0,104.4 235.8,114.0 226.5,113.8 217.2,113.5 207.9,113.3 208.2,103.6 208.5,94.0"/>
<polygon points="236.5,85.2 245.9,85.4 255.3,85.6 264.7,85.8 264.4,97.3 264.2,108.7 254.8,108.5 245.3,108.3 235.9,108.1 236.2,96.6"/>
<polygon points="264.7,81.9 274.1,82.1 283.5,82.3 292.9,82.4 292.7,93.5 292.6,104.6 283.1,104.4 273.7,104.3 264.3,104.1 264.5,93.0"/>
<polygon points="292.8,86.3 299.7,86.4 306.6,86.5 313.5,86.6 313.4,96.4 313.3,106.2 313.2,116.1 306.2,116.0 299.3,115.9 292.4,115.8 292.6,106.0 292.7,96.1"/>
<polygon points="55.8,106.6 65.2,107.2 74.6,107.7 84.1,108.2 83.6,117.6 83.1,127.1 82.6,136.6 73.1,136.1 63.6,135.6 54.2,135.0 54.7,125.6 55.2,116.1"/>
<polygon points="84.1,108.2 92.8,108.6 101.5,109.1 110.2,109.5 119.0,109.9 118.5,119.4 118.1,128.8 117.7,138.3 108.9,137.9 100.1,137.5 91.4,137.0 82.6,136.6 83.1,127.1 83.6,117.6"/>
<polygon points="119.0,109.9 127.0,110.3 135.1,110.6 143.2,110.9 151.3,111.3 150.9,120.7 150.5,130.2 150.2,139.7 142.0,139.4 133.9,139.0 125.8,138.7 117.7,138.3 118.1,128.8 118.5,119.4"/>
<polygon points="151.3,111.3 160.9,111.7 170.5,112.0 180.1,112.4 179.8,121.8 179.5,131.3 179.1,140.8 169.5,140.4 159.8,140.1 150.2,139.7 150.5,130.2 150.9,120.7"/>
<polygon points="180.1,112.4 189.4,112.7 198.7,113.0 207.9,113.3 207.7,122.7 207.4,132.2 207.1,141.7 197.8,141.4 188.5,141.1 179.1,140.8 179.5,131.3 179.8,121.8"/>
<polygon points="207.9,113.3 217.2,113.5 226.5,113.8 235.8,114.0 235.5,123.5 235.3,133.0 235.1,142.4 225.7,142.2 216.4,141.9 207.1,141.7 207.4,132.2 207.7,122.7"/>
<polygon points="235.9,108.1 245.3,108.3 254.8,108.5 264.2,108.7 264.0,120.6 263.7,132.5 254.3,132.3 244.8,132.1 235.3,131.9 235.6,120.0"/>
<polygon points="264.3,104.1 273.7,104.3 283.1,104.4 292.6,104.6 292.4,115.5 292.3,126.4 282.8,126.2 273.3,126.1 263.9,125.9 264.1,115.0"/>
<polygon points="292.4,115.8 299.7,115.9 306.9,116.0 314.2,116.1 314.0,127.5 313.9,139.0 313.8,150.5 306.5,150.4 299.2,150.3 291.9,150.2 292.1,138.7 292.2,127.3"/>
<polygon points="54.2,135.0 62.5,135.5 70.8,135.9 79.0,136.4 78.5,146.1 78.0,155.8 77.5,165.4 69.2,165.0 60.8,164.5 52.5,164.1 53.1,154.4 53.6,144.7"/>
<polygon points="79.0,136.4 86.3,136.8 93.6,137.1 100.9,137.5 100.4,147.2 99.9,156.9 99.5,166.6 92.2,166.2 84.8,165.8 77.5,165.4 78.0,155.8 78.5,146.1"/>
<polygon points="100.9,137.5 108.5,137.9 116.1,138.2 123.7,138.6 123.3,148.3 122.9,157.9 122.4,167.6 114.8,167.3 107.1,166.9 99.5,166.6 99.9,156.9 100.4,147.2"/>
<polygon points="123.7,138.6 131.0,138.9 138.3,139.2 145.6,139.5 145.2,149.2 144.8,158.9 144.4,168.6 137.1,168.3 129.8,168.0 122.4,167.6 122.9,157.9 123.3,148.3"/>
<polygon points="145.6,139.5 154.0,139.8 162.4,140.2 170.7,140.5 179.1,140.8 178.8,150.5 178.5,160.2 178.1,169.8 169.7,169.5 161.3,169.2 152.8,168.9 144.4,168.6 144.8,158.9 145.2,149.2"/>
<polygon points="179.1,140.8 188.5,141.1 197.8,141.4 207.1,141.7 206.7,153.6 206.4,165.5 197.0,165.2 187.7,164.9 178.3,164.6 178.7,152.7"/>
<polygon points="207.1,141.7 216.4,141.9 225.7,142.2 235.1,142.4 234.8,152.1 234.6,161.8 234.3,171.5 225.0,171.3 215.6,171.0 206.2,170.8 206.5,161.1 206.8,151.4"/>
<polygon points="235.3,131.9 244.8,132.1 254.3,132.3 263.7,132.5 263.5,143.7 263.3,155.0 253.8,154.8 244.3,154.6 234.8,154.3 235.0,143.1"/>
<polygon points="263.9,125.9 273.3,126.1 282.8,126.2 292.3,126.4 292.1,138.3 291.9,150.2 282.4,150.0 272.9,149.9 263.4,149.7 263.6,137.8"/>
<polygon points="234.8,154.3 244.3,154.6 253.8,154.8 263.3,155.0 263.1,166.5 262.8,178.1 253.3,177.9 243.7,177.7 234.2,177.5 234.5,165.9"/>
<polygon points="263.4,149.7 272.9,149.9 282.4,150.0 291.9,150.2 291.8,159.7 291.6,169.1 291.5,178.6 281.9,178.5 272.4,178.3 262.8,178.1 263.0,168.6 263.2,159.2"/>
<polygon points="52.5,164.1 61.0,164.5 69.5,165.0 78.0,165.5 77.4,176.9 76.8,188.4 76.2,199.8 67.7,199.3 59.1,198.9 50.5,198.4 51.2,187.0 51.9,175.5"/>
<polygon points="78.0,165.5 85.3,165.8 92.7,166.2 100.0,166.6 99.4,178.0 98.9,189.5 98.3,200.9 90.9,200.6 83.6,200.2 76.2,199.8 76.8,188.4 77.4,176.9"/>
<polygon points="100.0,166.6 108.9,167.0 117.7,167.4 126.6,167.8 135.5,168.2 144.4,168.6 144.6,177.2 144.7,185.8 137.2,185.5 129.7,185.2 122.2,184.8 121.8,193.4 121.4,202.0 113.7,201.6 106.0,201.3 98.3,200.9 98.9,189.5 99.4,178.0"/>
<polygon points="145.4,168.6 153.7,168.9 162.0,169.3 170.3,169.6 178.6,169.9 178.2,181.1 177.9,192.3 169.5,192.0 161.2,191.7 152.9,191.4 144.5,191.1 145.0,179.8"/>
<polygon points="178.3,164.6 187.7,164.9 197.0,165.2 206.4,165.5 206.2,170.8 212.4,170.9 212.1,179.4 211.9,187.8 204.4,187.6 196.8,187.3 189.3,187.1 189.5,182.1 183.9,181.9 178.2,181.8 178.3,173.2"/>
<polygon points="178.2,181.8 183.9,181.9 189.5,182.1 189.3,187.1 198.0,187.4 206.7,187.6 206.5,196.7 206.2,205.8 197.0,205.5 187.7,205.2 178.4,204.9 178.3,193.3"/>
<polygon points="212.4,170.9 219.7,171.1 227.0,171.3 234.3,171.5 234.3,181.2 234.2,190.9 234.1,200.6 224.9,200.4 215.6,200.1 206.4,199.9 206.7,187.6 211.9,187.8 212.1,179.4"/>
<polygon points="122.2,184.8 129.7,185.2 137.2,185.5 144.7,185.8 144.3,197.5 143.8,209.1 143.3,220.8 135.7,220.5 128.2,220.2 120.6,219.8 121.2,208.2 121.7,196.5"/>
<polygon points="144.5,191.1 153.1,191.4 161.7,191.7 170.3,192.1 178.9,192.4 178.5,202.3 178.2,212.2 177.9,222.1 169.2,221.8 160.6,221.5 151.9,221.1 143.3,220.8 143.7,210.9 144.1,201.0"/>
<polygon points="178.4,204.9 187.7,205.2 197.0,205.5 206.2,205.8 205.9,217.4 205.5,228.9 196.2,228.7 186.9,228.4 177.6,228.0 178.0,216.5"/>
<polygon points="206.4,199.9 215.6,200.1 224.9,200.4 234.1,200.6 233.9,210.3 233.6,220.0 233.4,229.7 224.1,229.5 214.8,229.2 205.5,228.9 205.8,219.2 206.1,209.6"/>
<polygon points="234.2,177.5 244.2,177.7 254.1,177.9 264.1,178.1 274.1,178.3 273.9,188.0 273.7,197.7 273.6,207.4 263.7,207.2 253.8,207.0 243.9,206.8 234.0,206.6 234.0,196.9 234.1,187.2"/>
<polygon points="234.0,206.6 242.5,206.8 250.9,207.0 259.4,207.1 267.9,207.3 267.7,218.9 267.5,230.4 259.0,230.3 250.4,230.1 241.9,229.9 233.4,229.7 233.7,218.1"/>
<polygon points="274.1,178.3 283.6,178.5 293.2,178.6 302.7,178.8 302.6,187.4 302.5,196.0 292.9,195.8 283.4,195.7 273.8,195.5 273.9,186.9"/>
<polygon points="273.8,195.5 283.4,195.7 292.9,195.8 302.5,196.0 302.4,205.6 302.3,215.3 302.1,225.0 293.5,224.9 284.9,224.8 276.2,224.7 267.6,224.5 267.7,215.9 267.9,207.3 273.6,207.4"/>
<polygon points="291.9,150.2 299.2,150.3 306.5,150.4 313.8,150.5 313.7,155.7 319.3,155.8 319.2,165.3 319.2,174.8 319.1,184.2 310.9,184.1 302.7,184.1 302.7,178.8 297.1,178.7 291.5,178.6 291.6,169.1 291.8,159.7"/>
<polygon points="302.7,184.1 310.7,184.1 318.8,184.2 326.9,184.3 334.9,184.4 334.9,194.6 334.8,204.9 334.7,215.1 334.6,225.4 326.5,225.3 318.4,225.2 310.3,225.1 302.1,225.0 302.3,214.8 302.4,204.5 302.5,194.3"/>
<polygon points="267.6,224.5 276.2,224.7 284.9,224.8 293.5,224.9 302.1,225.0 302.0,235.4 301.9,245.8 301.8,256.1 293.1,256.0 284.4,255.9 275.7,255.7 267.0,255.6 267.2,245.2 267.4,234.9"/>
<polygon points="302.1,225.0 310.3,225.1 318.4,225.2 326.5,225.3 334.6,225.4 334.6,235.7 334.5,246.1 334.4,256.4 326.3,256.4 318.1,256.3 309.9,256.2 301.8,256.1 301.9,245.8 302.0,235.4"/>
<polygon points="240.1,229.9 249.2,230.1 258.4,230.3 267.5,230.4 267.2,243.0 267.0,255.6 257.8,255.4 248.7,255.2 239.5,255.0 239.8,242.4"/>
<polygon points="206.6,229.0 214.9,229.2 223.3,229.4 231.7,229.7 240.1,229.9 239.8,242.4 239.5,255.0 231.1,254.8 222.7,254.6 214.2,254.3 205.8,254.1 206.2,241.5"/>
<polygon points="178.2,228.1 187.6,228.4 197.1,228.7 206.6,229.0 206.2,241.5 205.8,254.1 196.3,253.8 186.8,253.5 177.3,253.2 177.7,240.6"/>
<polygon points="149.5,221.0 159.1,221.4 168.7,221.8 178.4,222.1 178.0,232.5 177.7,242.8 177.3,253.2 167.6,252.8 157.9,252.5 148.3,252.1 148.7,241.7 149.1,231.4"/>
<polygon points="121.7,219.9 130.9,220.3 140.2,220.7 149.5,221.0 149.1,231.4 148.7,241.7 148.3,252.1 138.9,251.7 129.6,251.3 120.3,250.9 120.7,240.6 121.2,230.2"/>
<polygon points="99.7,224.8 107.0,225.2 114.2,225.5 121.4,225.8 120.8,238.4 120.3,250.9 113.0,250.6 105.8,250.3 98.5,249.9 99.1,237.4"/>
<polygon points="75.0,223.6 83.2,224.0 91.5,224.4 99.7,224.8 99.1,237.4 98.5,249.9 90.2,249.5 81.9,249.1 73.7,248.7 74.3,236.1"/>
<polygon points="49.2,222.2 57.8,222.6 66.4,223.1 75.0,223.6 74.3,236.1 73.7,248.7 65.0,248.2 56.4,247.7 47.8,247.2 48.5,234.7"/>
<polygon points="50.5,198.4 59.4,198.9 68.3,199.4 77.2,199.9 76.6,211.7 76.0,223.6 67.1,223.2 58.1,222.7 49.2,222.2 49.9,210.3"/>
<polygon points="77.2,199.9 84.6,200.2 92.0,200.6 99.3,201.0 98.8,212.9 98.2,224.7 90.8,224.4 83.4,224.0 76.0,223.6 76.6,211.7"/>
<polygon points="99.3,201.0 106.7,201.3 114.1,201.7 121.4,202.0 120.9,213.9 120.4,225.8 113.0,225.4 105.6,225.1 98.2,224.7 98.8,212.9"/>
<polygon points="319.3,155.8 327.3,155.9 335.3,155.9 343.3,156.0 343.2,167.6 343.2,179.1 335.0,179.1 334.9,184.4 327.0,184.3 319.1,184.2 319.2,174.8 319.2,165.3"/>
<polygon points="314.0,132.6 321.3,132.7 328.5,132.7 335.8,132.8 335.8,135.4 343.4,135.5 343.4,145.7 343.3,156.0 333.4,155.9 323.6,155.8 313.7,155.7 313.9,144.2"/>
<polygon points="343.4,142.1 350.3,142.1 357.3,142.2 364.2,142.2 364.2,154.5 364.2,166.9 364.1,179.2 357.2,179.2 350.2,179.2 343.2,179.1 343.2,166.8 343.3,154.4"/>
<polygon points="335.0,179.1 344.5,179.1 354.1,179.2 363.6,179.2 363.6,191.8 363.6,204.3 363.6,216.9 353.9,216.9 344.3,216.8 334.7,216.8 334.8,204.2 334.9,191.6"/>
<polygon points="334.7,216.8 344.3,216.8 353.9,216.9 363.6,216.9 363.5,226.5 363.5,236.1 353.9,236.0 344.2,236.0 334.6,235.9 334.6,226.4"/>
<polygon points="334.6,235.9 344.2,236.0 353.9,236.0 363.5,236.1 363.5,246.3 363.5,256.6 353.8,256.5 344.1,256.5 334.4,256.4 334.5,246.2"/>
<polygon points="364.2,132.9 371.7,132.9 379.1,132.9 386.6,132.9 386.6,142.6 386.6,152.3 386.6,162.0 379.1,162.0 371.7,162.0 364.2,162.0 364.2,152.3 364.2,142.6"/>
<polygon points="364.2,162.0 371.7,162.0 379.1,162.0 386.6,162.0 386.7,174.9 386.7,187.8 379.2,187.8 371.6,187.8 364.1,187.8 364.2,174.9"/>
<polygon points="363.6,187.8 371.1,187.8 378.6,187.8 386.2,187.8 386.2,198.1 386.2,208.3 378.7,208.3 371.1,208.3 363.6,208.3 363.6,198.1"/>
<polygon points="363.6,208.3 371.1,208.3 378.7,208.3 386.2,208.3 386.2,219.9 386.3,231.4 378.7,231.5 371.1,231.5 363.5,231.4 363.6,219.9"/>
<polygon points="363.5,231.4 371.1,231.5 378.7,231.5 386.3,231.4 386.3,244.0 386.3,256.6 378.7,256.6 371.1,256.6 363.5,256.6 363.5,244.0"/>
<polygon points="386.6,142.2 394.2,142.2 401.8,142.1 409.5,142.1 409.5,153.7 409.6,165.2 401.9,165.3 394.3,165.3 386.6,165.3 386.6,153.8"/>
<polygon points="386.6,165.3 394.1,165.3 401.6,165.3 409.1,165.2 409.2,176.5 409.2,187.7 401.7,187.8 394.2,187.8 386.7,187.8 386.7,176.6"/>
<polygon points="386.2,187.8 393.7,187.8 401.2,187.8 408.7,187.7 408.8,198.0 408.8,208.2 401.3,208.3 393.7,208.3 386.2,208.3 386.2,198.1"/>
<polygon points="386.2,208.3 393.7,208.3 401.3,208.3 408.8,208.2 408.9,219.8 409.0,231.4 401.4,231.4 393.8,231.4 386.3,231.4 386.2,219.9"/>
<polygon points="386.3,231.4 393.8,231.4 401.4,231.4 409.0,231.4 409.0,243.9 409.1,256.5 401.5,256.5 393.9,256.6 386.3,256.6 386.3,244.0"/>
<polygon points="409.5,142.1 416.9,142.0 424.4,142.0 431.8,141.9 431.9,153.5 432.1,165.1 424.6,165.1 417.1,165.2 409.6,165.2 409.5,153.7"/>
<polygon points="409.1,165.2 416.7,165.2 424.4,165.1 432.1,165.1 432.2,176.3 432.3,187.5 424.6,187.6 416.9,187.7 409.2,187.7 409.2,176.5"/>
<polygon points="408.7,187.7 416.6,187.7 424.4,187.6 432.3,187.5 432.4,199.8 432.5,212.0 424.6,212.1 416.8,212.1 408.9,212.2 408.8,200.0"/>
<polygon points="408.9,212.2 416.8,212.1 424.6,212.1 432.5,212.0 432.6,222.9 432.8,233.8 424.8,233.9 416.9,233.9 409.0,234.0 408.9,223.1"/>
<polygon points="409.0,234.0 416.9,233.9 424.8,233.9 432.8,233.8 432.9,245.1 433.0,256.3 425.0,256.4 417.1,256.4 409.1,256.5 409.1,245.2"/>
<polygon points="313.0,86.6 331.6,87.2 325.2,95.2 325.6,99.2 327.6,104.0 330.0,109.6 331.4,112.3 335.7,113.5 344.4,113.6 341.2,118.4 335.7,119.8 318.5,119.1 318.5,110.5 313.0,110.5"/>
<polygon points="359.3,86.9 359.3,99.0 359.3,111.1 359.4,115.5 357.2,113.6 354.0,112.0 350.8,112.8 347.6,112.0 344.4,113.6 335.7,113.5 331.4,112.3 330.0,109.6 327.6,104.0 325.6,99.2 325.2,95.2 331.6,87.2"/>
<polygon points="335.7,119.8 341.2,118.4 344.4,113.6 347.6,112.0 350.8,112.8 354.0,112.0 357.2,113.6 359.4,115.5 360.4,116.8 363.4,118.6 363.8,142.2 357.0,142.2 350.2,142.1 343.4,142.1 343.4,135.5 335.8,135.4 335.8,132.8"/>
<polygon points="313.0,110.5 318.5,110.5 318.5,119.1 335.7,119.8 335.8,132.8 328.5,132.7 321.3,132.7 314.0,132.6 314.1,124.3 314.2,116.1 312.6,116.1"/>
<polygon points="359.3,86.9 365.9,86.9 372.4,86.9 372.4,81.4 382.4,81.4 382.4,91.3 382.4,101.2 382.4,111.1 374.7,111.1 367.0,111.1 359.3,111.1 359.3,99.0"/>
<polygon points="359.3,111.1 367.0,111.1 374.7,111.1 382.4,111.1 382.5,120.2 386.3,120.6 386.6,132.9 379.0,132.9 371.4,132.9 363.8,132.9 363.4,118.6 360.4,116.8 359.4,115.5"/>
<polygon points="382.4,81.4 388.7,81.4 395.0,81.3 408.8,82.0 407.6,83.6 405.8,86.2 406.4,88.6 408.2,91.0 410.6,93.4 412.4,95.8 413.8,96.6 382.4,97.6 382.4,89.5"/>
<polygon points="394.9,58.2 395.0,58.0 396.8,59.2 399.2,61.6 401.0,63.4 403.4,64.6 405.2,66.4 408.2,67.0 410.6,65.8 413.6,65.8 414.8,67.0 415.4,69.4 417.8,70.6 417.2,72.4 418.4,74.2 417.2,76.0 414.8,76.0 413.6,76.6 412.4,78.4 410.6,80.2 408.8,82.0 395.0,81.3 395.0,69.8"/>
<polygon points="382.4,97.6 392.4,97.5 402.4,97.5 402.5,121.4 395.0,121.4 390.0,121.0 386.3,120.6 382.5,120.2 382.4,111.1 382.4,104.3"/>
<polygon points="402.4,97.5 413.8,96.6 416.8,99.2 417.4,101.6 416.8,104.0 419.2,107.0 421.0,109.4 423.4,111.2 416.8,111.2 416.8,121.6 413.0,124.0 409.6,125.5 405.0,124.5 402.5,121.4"/>
<polygon points="416.8,111.2 423.4,111.2 426.4,112.4 429.4,113.6 431.6,116.1 431.6,121.7 416.8,121.6"/>
<polygon points="386.3,120.6 390.0,121.0 395.0,121.4 402.5,121.4 405.0,124.5 409.6,125.5 409.5,142.1 401.8,142.1 394.2,142.2 386.6,142.2 386.6,132.9"/>
<polygon points="409.6,125.5 413.0,124.0 416.8,121.6 431.6,121.7 431.7,131.8 431.8,141.9 424.4,142.0 416.9,142.0 409.5,142.1"/>
<path d="M363.4,118.6 L366.5,120 L370,120.6 L374,119.8 L378,119.6 L382.5,120.2"/>
</g>
<path d="M394.9,58.2 L390.0,58.2 L385.0,58.2 L380.1,58.2 L375.2,58.2 L370.2,58.2 L365.3,58.2 L360.3,58.2 L355.4,58.2 L350.5,58.2 L345.5,58.1 L340.6,58.1 L335.6,58.1 L330.7,58.0 L325.7,58.0 L320.8,58.0 L315.9,57.9 L310.9,57.9 L306.0,57.8 L301.0,57.7 L296.1,57.7 L291.2,57.6 L286.2,57.5 L281.3,57.4 L276.3,57.3 L271.4,57.3 L266.5,57.2 L261.5,57.1 L256.6,57.0 L251.6,56.9 L246.7,56.7 L241.7,56.6 L236.8,56.5 L231.9,56.4 L226.9,56.2 L222.0,56.1 L217.0,56.0 L212.1,55.8 L207.2,55.7 L202.2,55.5 L197.3,55.4 L192.4,55.2 L187.4,55.0 L182.5,54.9 L177.5,54.7 L172.6,54.5 L167.7,54.3 L162.7,54.2 L157.8,54.0 L152.8,53.8 L147.9,53.6 L143.0,53.4 L138.0,53.2 L133.1,52.9 L128.2,52.7 L123.2,52.5 L118.3,52.3 L113.3,52.0 L108.4,51.8 L103.5,51.6 L98.5,51.3 L93.6,51.1 L88.7,50.8 L83.7,50.6 L78.8,50.3 L73.9,50.0 L68.9,49.8 L64.0,49.5 L59.1,49.2 L58.7,55.8 L58.3,62.4 L57.9,69.0 L57.6,75.6 L57.2,82.2 L56.8,88.8 L56.4,95.4 L56.0,102.0 L55.7,108.6 L55.3,115.2 L54.9,121.8 L54.5,128.4 L54.2,135.0 L53.8,141.6 L53.4,148.2 L53.0,154.8 L52.7,161.4 L52.3,168.0 L51.9,174.6 L51.5,181.2 L51.1,187.8 L50.8,194.4 L50.4,201.0 L50.0,207.6 L49.6,214.2 L49.3,220.8 L48.9,227.4 L48.5,234.0 L48.1,240.6 L47.8,247.2 L52.9,247.5 L58.0,247.8 L63.1,248.1 L68.3,248.4 L73.4,248.6 L78.5,248.9 L83.7,249.2 L88.8,249.4 L93.9,249.7 L99.1,249.9 L104.2,250.2 L109.3,250.4 L114.5,250.7 L119.6,250.9 L124.7,251.1 L129.9,251.3 L135.0,251.6 L140.1,251.8 L145.3,252.0 L150.4,252.2 L155.5,252.4 L160.7,252.6 L165.8,252.8 L171.0,253.0 L176.1,253.1 L181.2,253.3 L186.4,253.5 L191.5,253.6 L196.6,253.8 L201.8,254.0 L206.9,254.1 L212.0,254.3 L217.2,254.4 L222.3,254.5 L227.4,254.7 L232.6,254.8 L237.7,254.9 L242.9,255.1 L248.0,255.2 L253.1,255.3 L258.3,255.4 L263.4,255.5 L268.5,255.6 L273.7,255.7 L278.8,255.8 L284.0,255.9 L289.1,255.9 L294.2,256.0 L299.4,256.1 L304.5,256.1 L309.7,256.2 L314.8,256.3 L319.9,256.3 L325.1,256.4 L330.2,256.4 L335.3,256.4 L340.5,256.5 L345.6,256.5 L350.8,256.5 L355.9,256.5 L361.0,256.6 L366.2,256.6 L371.3,256.6 L376.5,256.6 L381.6,256.6 L386.7,256.6 L391.9,256.6 L397.0,256.5 L402.2,256.5 L407.3,256.5 L412.4,256.5 L417.6,256.4 L422.7,256.4 L427.8,256.3 L433.0,256.3 L432.9,249.9 L432.9,243.5 L432.8,237.2 L432.7,230.8 L432.7,224.4 L432.6,218.1 L432.5,211.7 L432.5,205.3 L432.4,198.9 L432.3,192.6 L432.3,186.2 L432.2,179.8 L432.1,173.5 L432.1,167.1 L432.0,160.7 L432.0,154.4 L431.9,148.0 L431.8,141.6 L431.8,135.2 L431.7,128.9 L431.6,122.5 L431.6,116.1 L429.4,113.6 L426.4,112.4 L423.4,111.2 L421.0,109.4 L419.2,107.0 L416.8,104.0 L417.4,101.6 L416.8,99.2 L413.8,96.6 L412.4,95.8 L410.6,93.4 L408.2,91.0 L406.4,88.6 L405.8,86.2 L407.6,83.6 L408.8,82.0 L410.6,80.2 L412.4,78.4 L413.6,76.6 L414.8,76.0 L417.2,76.0 L418.4,74.2 L417.2,72.4 L417.8,70.6 L415.4,69.4 L414.8,67.0 L413.6,65.8 L410.6,65.8 L408.2,67.0 L405.2,66.4 L403.4,64.6 L401.0,63.4 L399.2,61.6 L396.8,59.2 L395.0,58.0 Z" fill="none" stroke="#555" stroke-opacity="0.7" stroke-width="0.7" stroke-linejoin="round"/>
<path d="M429.4,113.6 L426.4,112.4 L423.4,111.2 L421.0,109.4 L419.2,107.0 L416.8,104.0 L417.4,101.6 L416.8,99.2 L413.8,96.6 L412.4,95.8 L410.6,93.4 L408.2,91.0 L406.4,88.6 L405.8,86.2 L407.6,83.6 L408.8,82.0 L410.6,80.2 L412.4,78.4 L413.6,76.6 L414.8,76.0 L417.2,76.0 L418.4,74.2 L417.2,72.4 L417.8,70.6 L415.4,69.4 L414.8,67.0 L413.6,65.8 L410.6,65.8 L408.2,67.0 L405.2,66.4 L403.4,64.6 L401.0,63.4 L399.2,61.6 L396.8,59.2 L395.0,58.0" fill="none" stroke="#505050" stroke-opacity="0.9" stroke-width="0.9" stroke-linejoin="round"/>
<text class="t" style="opacity:0.999" x="243.6" y="30.2" font-size="17.6" text-anchor="middle">Veterans with a Disability:</text>
<text class="t" style="opacity:0.999" x="245.6" y="50.7" font-size="17.6" text-anchor="middle">Kansas</text>
<g class="s" font-weight="bold" font-size="6.4" letter-spacing="-0.16" fill="none" stroke="#fff" stroke-opacity="0.55" stroke-width="1.6" stroke-linejoin="round">
<text x="331.6" y="107">Manhattan</text>
<text x="279.6" y="131.7">Salina</text>
<text x="372" y="116.8">Topeka</text>
<text x="398.9" y="122.6">Lawrence</text>
<text x="293" y="206.7">Wichita</text>
</g>
<g class="s" font-weight="bold" font-size="6.4" letter-spacing="-0.16" fill="#1a1a1a" stroke="#1a1a1a" stroke-width="0.12">
<text x="331.6" y="107">Manhattan</text>
<text x="279.6" y="131.7">Salina</text>
<text x="372" y="116.8">Topeka</text>
<text x="398.9" y="122.6">Lawrence</text>
<text x="293" y="206.7">Wichita</text>
</g>
<g fill="#000" stroke="#fff" stroke-opacity="0.5" stroke-width="0.8" paint-order="stroke">
<polygon points="331.40,108.70 332.34,111.11 334.92,111.26 332.92,112.89 333.57,115.39 331.40,114.00 329.23,115.39 329.88,112.89 327.88,111.26 330.46,111.11"/>
<polygon points="279.40,132.90 280.34,135.31 282.92,135.46 280.92,137.09 281.57,139.59 279.40,138.20 277.23,139.59 277.88,137.09 275.88,135.46 278.46,135.31"/>
<polygon points="376.60,118.80 377.54,121.21 380.12,121.36 378.12,122.99 378.77,125.49 376.60,124.10 374.43,125.49 375.08,122.99 373.08,121.36 375.66,121.21"/>
<polygon points="398.90,124.60 399.84,127.01 402.42,127.16 400.42,128.79 401.07,131.29 398.90,129.90 396.73,131.29 397.38,128.79 395.38,127.16 397.96,127.01"/>
<polygon points="293.00,208.30 293.94,210.71 296.52,210.86 294.52,212.49 295.17,214.99 293.00,213.60 290.83,214.99 291.48,212.49 289.48,210.86 292.06,210.71"/>
</g>
<text class="t" style="opacity:0.999" font-size="12.8" letter-spacing="-0.2" x="339" y="269.9">Rate of Veterans</text>
<text class="t" style="opacity:0.999" font-size="12.8" letter-spacing="-0.2" x="339" y="283.7">with a Disability</text>
<text class="t" style="opacity:0.999" font-size="12.8" letter-spacing="-0.2" x="339" y="297.2">(ages 18 years +)</text>
<g stroke="#9b8a80" stroke-width="0.5">
<rect x="338.4" y="308.4" width="25" height="12.5" fill="#fae8d4"/>
<rect x="338.4" y="325.5" width="25" height="12.5" fill="#e8a98b"/>
<rect x="338.4" y="342.6" width="25" height="12.5" fill="#ca6f50"/>
<rect x="338.4" y="359.6" width="25" height="12.5" fill="#ae4328"/>
</g>
<g class="s" font-size="8" fill="#2a2a2a" stroke="#2a2a2a" stroke-width="0.15" style="opacity:0.999">
<text x="368.2" y="318.1">13.9% - 27.9%</text>
<text x="368.2" y="335">28.0% - 33.1%</text>
<text x="368.2" y="351.6">33.2% - 39.5%</text>
<text x="368.2" y="368.4">39.6% - 58.0%</text>
</g>
<g class="s" font-size="6.3" fill="#111" stroke="#111" stroke-width="0.1" style="opacity:0.999">
<text x="14.3" y="342.1">Data Source:</text>
<text x="14.3" y="349.3">US Census 2013-2017 ACS</text>
<text x="14.3" y="356.4">American FactFinder Table C21007</text>
<text x="14.3" y="363.6">RTC: Rural</text>
<text x="14.3" y="370.8">University of Montana</text>
</g>
<g fill="none" stroke="#444" stroke-width="0.9">
<path d="M167.2,366.6 V371.4 H309.6 V366.8"/>
<path d="M168,370.3 H308.8" stroke="#fff" stroke-opacity="0.6" stroke-width="0.7"/>
<path d="M191.1,368 V371.4 M214.9,368 V371.4 M238.6,366.8 V371.4 M262.4,368 V371.4 M286.1,368 V371.4"/>
</g>
<g class="s" font-size="7" fill="#333" stroke="#333" stroke-width="0.3" style="opacity:0.999">
<text x="167.2" y="362.9" text-anchor="middle">0</text>
<text x="238.6" y="362.9" text-anchor="middle">75</text>
<text x="304" y="362.9">150 Miles</text>
</g>
</svg>
</body></html>
